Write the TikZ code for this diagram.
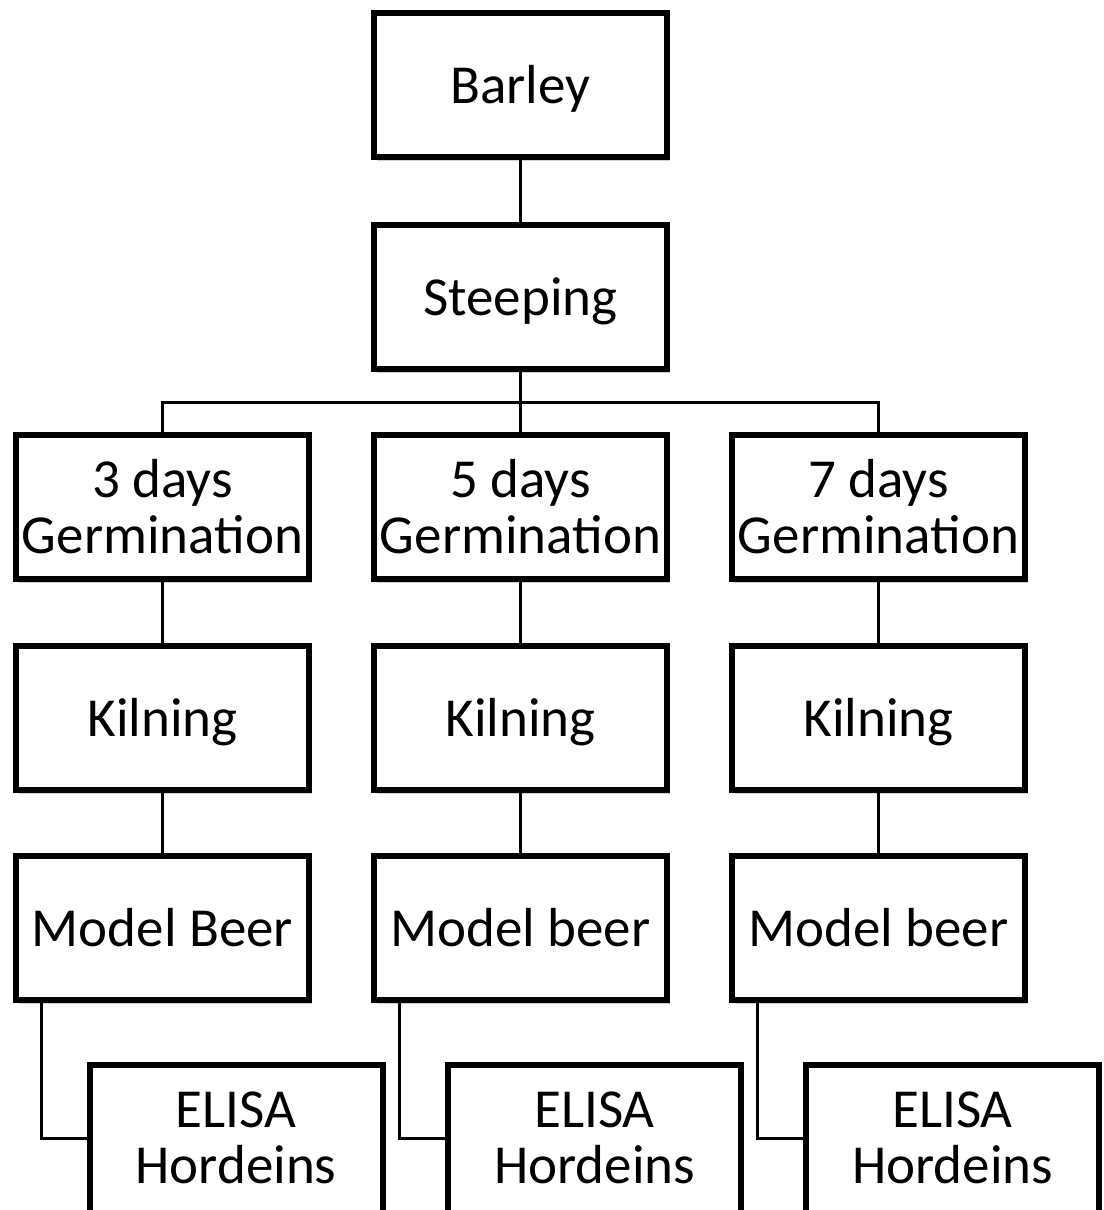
\documentclass[tikz,border=0pt]{standalone}
\usepackage{fontspec}
\setmainfont{Carlito}
\usetikzlibrary{shadows,backgrounds}
\begin{document}
\begin{tikzpicture}[x=1pt,y=-1pt,
  stepbox/.style={draw=black, line width=6pt, fill=white, inner sep=0pt,
    minimum width=293pt, minimum height=144pt, align=center,
    font=\fontsize{55}{56}\selectfont,
    drop shadow={shadow xshift=2.5pt, shadow yshift=-4pt, opacity=0.18, fill=black}},
  single/.style={text height=37pt, text depth=0pt},
  tallbox/.style={stepbox, minimum height=170pt},
  boxtext/.style={inner sep=0pt, align=center, font=\fontsize{55}{56}\selectfont},
  link/.style={draw=black, line width=3pt}]
\useasboundingbox (0,0) rectangle (1103,1210);
% nodes
\node[stepbox,single] (barley) at (520.5,85) {Barley};
\node[stepbox,single] (steep) at (520.5,297) {Steeping};
\node[stepbox] (g1) at (162.5,507) {3 days\\Germination};
\node[stepbox] (g2) at (520.5,507) {5 days\\Germination};
\node[stepbox] (g3) at (878.5,507) {7 days\\Germination};
\node[stepbox,single] (k1) at (162.5,717.5) {Kilning};
\node[stepbox,single] (k2) at (520.5,717.5) {Kilning};
\node[stepbox,single] (k3) at (878.5,717.5) {Kilning};
\node[stepbox,single] (m1) at (162.5,928) {Model Beer};
\node[stepbox,single] (m2) at (520.5,928) {Model beer};
\node[stepbox,single] (m3) at (878.5,928) {Model beer};
\node[tallbox] (e1) at (236,1150) {};
\node[tallbox] (e2) at (594.5,1150) {};
\node[tallbox] (e3) at (952.5,1150) {};
\node[boxtext] (t1) at (236,1138) {ELISA\\Hordeins};
\node[boxtext] (t2) at (594.5,1138) {ELISA\\Hordeins};
\node[boxtext] (t3) at (952.5,1138) {ELISA\\Hordeins};
\coordinate (bus) at (520.5,402);
% connectors (behind boxes)
\begin{scope}[on background layer]
\draw[link] (barley.south) -- (steep.north);
\draw[link] (steep.south) -- (bus);
\draw[link] (g1.north) |- (bus) -| (g3.north);
\draw[link] (bus) -- (g2.north);
\draw[link] (g1.south) -- (k1.north);
\draw[link] (g2.south) -- (k2.north);
\draw[link] (g3.south) -- (k3.north);
\draw[link] (k1.south) -- (m1.north);
\draw[link] (k2.south) -- (m2.north);
\draw[link] (k3.south) -- (m3.north);
\draw[link] ([xshift=28pt]m1.south west) |- (t1 -| e1.west);
\draw[link] ([xshift=28pt]m2.south west) |- (t2 -| e2.west);
\draw[link] ([xshift=28pt]m3.south west) |- (t3 -| e3.west);
\end{scope}
\end{tikzpicture}
\end{document}
